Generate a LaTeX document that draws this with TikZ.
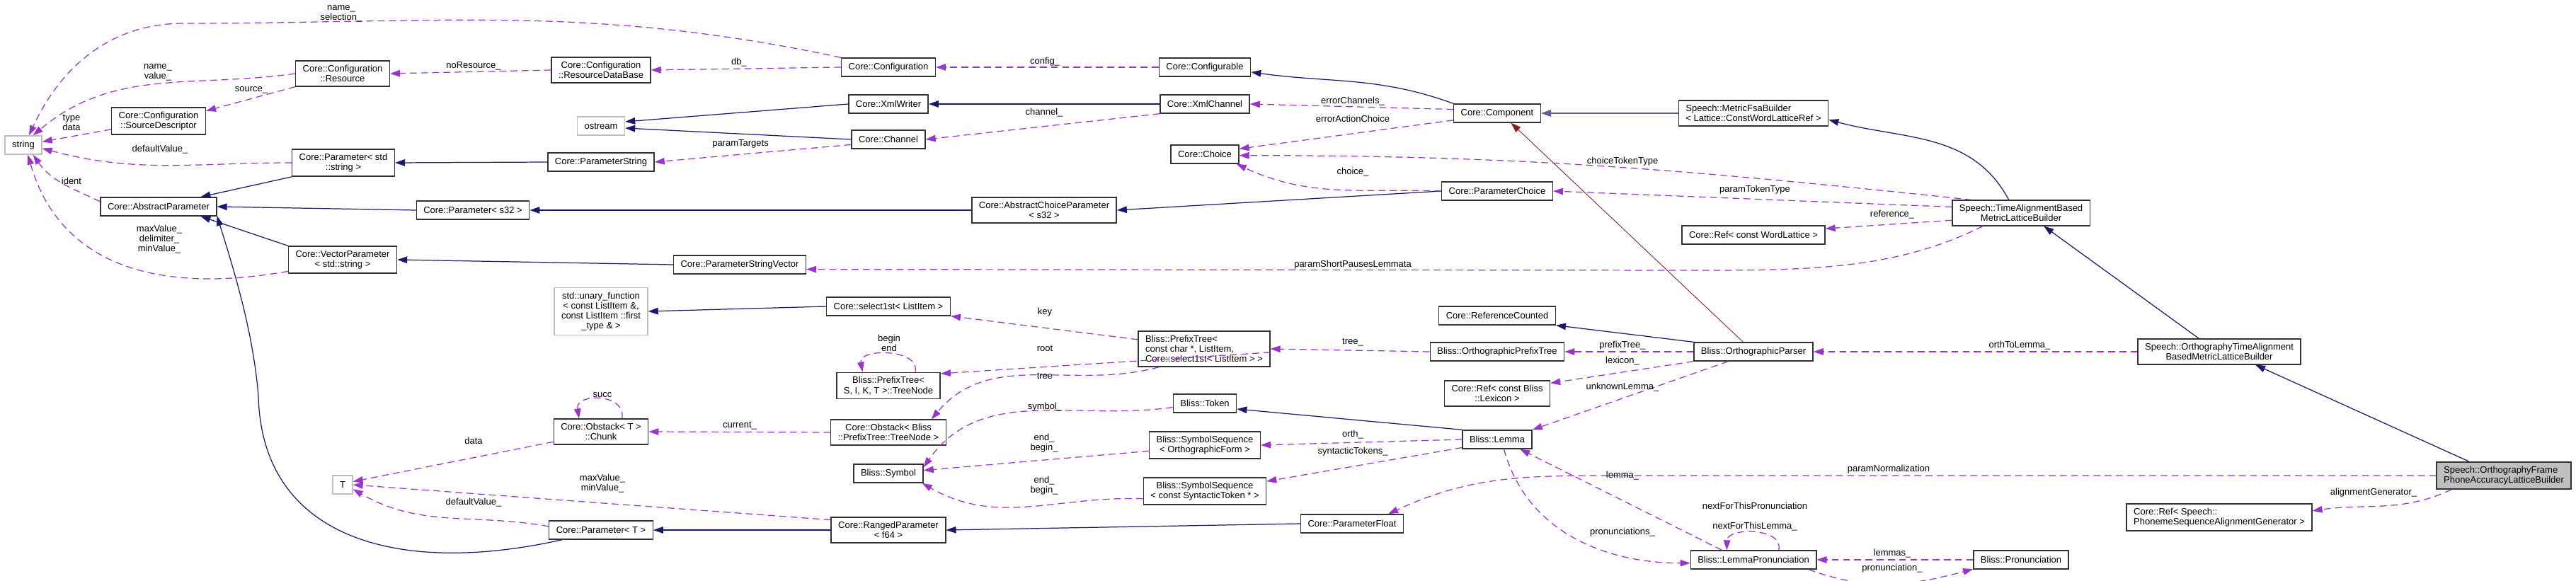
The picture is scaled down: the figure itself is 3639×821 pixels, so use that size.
\documentclass[tikz,border=0pt]{standalone}
\usepackage{fontspec}
\setmainfont{Liberation Sans}
\usetikzlibrary{arrows.meta}
\definecolor{inhblue}{RGB}{25,25,112}
\definecolor{usepurple}{RGB}{154,50,205}
\definecolor{protred}{RGB}{139,26,26}
\definecolor{extgray}{RGB}{191,191,191}

\begin{document}
\begin{tikzpicture}[x=0.02cm,y=-0.02cm,
  font=\fontsize{7.4}{8.1}\selectfont,
  cls/.style={draw=black!80,line width=0.8pt,fill=white,inner xsep=0.2cm,inner ysep=0.12cm,minimum height=0.52cm,align=center},
  ext/.style={cls,draw=extgray},
  cur/.style={cls,fill=extgray},
  lbl/.style={inner sep=0pt,align=center},
  inh/.style={->,draw=inhblue,line width=0.7pt},
  use/.style={->,draw=usepurple,line width=0.7pt,dash pattern=on 5.5pt off 3.5pt},
  prot/.style={->,draw=protred,line width=0.5pt},
  >={Triangle[length=0.28cm,width=0.19cm]}]
\useasboundingbox (0,0) rectangle (3639,821);
\node[ext] (str) at (33,205) {string};
\node[cls] (cres) at (484,104) {Core::Configuration\\::Resource};
\node[cls] (crdb) at (849,99) {Core::Configuration\\::ResourceDataBase};
\node[cls] (csrc) at (224,171) {Core::Configuration\\::SourceDescriptor};
\node[ext] (ostr) at (849,178) {ostream};
\node[cls] (cpstd) at (485,230) {Core::Parameter< std\\::string >};
\node[cls] (cpstr) at (849,229) {Core::ParameterString};
\node[cls] (cabs) at (224,292) {Core::AbstractParameter};
\node[cls] (cps32) at (668,297) {Core::Parameter< s32 >};
\node[cls] (cvec) at (484,367) {Core::VectorParameter\\< std::string >};
\node[ext] (unf) at (849,440) {std::unary\_function\\< const ListItem \&,\\const ListItem ::first\\\_type \& >};
\node[cls] (chunk) at (849,610) {Core::Obstack< T >\\::Chunk};
\node[ext] (tt) at (484,685) {T};
\node[cls] (cpt) at (849,749) {Core::Parameter< T >};
\node[cls] (cconf) at (1255,95) {Core::Configuration};
\node[cls] (ccfg) at (1702,95) {Core::Configurable};
\node[cls] (cxw) at (1255,147) {Core::XmlWriter};
\node[cls] (cxc) at (1702,147) {Core::XmlChannel};
\node[cls] (cchan) at (1255,197) {Core::Channel};
\node[cls] (cchoice) at (1702,218) {Core::Choice};
\node[cls] (cacp) at (1475,297) {Core::AbstractChoiceParameter\\< s32 >};
\node[cls] (cpsv) at (1045,374) {Core::ParameterStringVector};
\node[cls] (csel) at (1255,433) {Core::select1st< ListItem >};
\node[cls,align=left] (bpt) at (1701,493) {Bliss::PrefixTree<\\ const char *, ListItem,\\ Core::select1st< ListItem > >};
\node[cls] (btn) at (1255,545) {Bliss::PrefixTree<\\S, I, K, T >::TreeNode};
\node[cls] (cobs) at (1255,611) {Core::Obstack< Bliss\\::PrefixTree::TreeNode >};
\node[cls] (btok) at (1702,570) {Bliss::Token};
\node[cls] (bsso) at (1702,629) {Bliss::SymbolSequence\\< OrthographicForm >};
\node[cls] (bsym) at (1255,669) {Bliss::Symbol};
\node[cls] (bsss) at (1702,694) {Bliss::SymbolSequence\\< const SyntacticToken * >};
\node[cls] (crp) at (1255,749) {Core::RangedParameter\\< f64 >};
\node[cls] (ccomp) at (2115,160) {Core::Component};
\node[cls,align=left] (smfb) at (2477,160) {Speech::MetricFsaBuilder\\< Lattice::ConstWordLatticeRef >};
\node[cls] (cpc) at (2115,270) {Core::ParameterChoice};
\node[cls] (crwl) at (2477,332) {Core::Ref< const WordLattice >};
\node[cls] (crc) at (2115,446) {Core::ReferenceCounted};
\node[cls] (bopt) at (2115,497) {Bliss::OrthographicPrefixTree};
\node[cls] (bop) at (2477,497) {Bliss::OrthographicParser};
\node[cls] (crlex) at (2115,556) {Core::Ref< const Bliss\\::Lexicon >};
\node[cls] (blem) at (2115,621) {Bliss::Lemma};
\node[cls] (cpf) at (1910,740) {Core::ParameterFloat};
\node[cls] (blp) at (2477,791) {Bliss::LemmaPronunciation};
\node[cls] (stab) at (2855,301) {Speech::TimeAlignmentBased\\MetricLatticeBuilder};
\node[cls] (sota) at (3135,497) {Speech::OrthographyTimeAlignment\\BasedMetricLatticeBuilder};
\node[cur,align=left] (sofp) at (3537,672) {Speech::OrthographyFrame\\PhoneAccuracyLatticeBuilder};
\node[cls,align=left] (crpsa) at (3135,731) {Core::Ref< Speech::\\PhonemeSequenceAlignmentGenerator >};
\node[cls] (bpron) at (2855,791) {Bliss::Pronunciation};
\draw[inh] (cpstd.south west) -- (cabs.13);
\draw[inh] (cps32.west) -- (cabs.east);
\draw[inh] (cvec.north west) -- (cabs.-13);
\draw[inh] (cpt.194) .. controls (560,815) and (370,760) .. (365,560) .. controls (358,470) and (330,380) .. (cabs.-9);
\draw[inh] (cpstr.west) -- (cpstd.east);
\draw[inh] (cxw.west) -- (ostr.10);
\draw[inh] (cchan.west) -- (ostr.-5);
\draw[inh] (cxc.west) -- (cxw.east);
\draw[inh] (cacp.west) -- (cps32.east);
\draw[inh] (cpsv.west) -- (cvec.east);
\draw[inh] (cpc.west) -- (cacp.east);
\draw[inh] (ccomp.north west) to[out=160,in=-8] (ccfg.-6);
\draw[inh,draw=inhblue!70] (smfb.west) -- (ccomp.east);
\draw[inh] (stab.133) to[out=118,in=-15] (smfb.-5);
\draw[inh] (sota.147) -- (stab.-30);
\draw[inh] (sofp.158) -- (sota.-20);
\draw[inh] (bop.north west) -- (crc.south east);
\draw[inh] (csel.west) -- (unf.east);
\draw[inh] (blem.north west) -- (btok.-10);
\draw[inh] (crp.west) -- (cpt.east);
\draw[inh] (cpf.west) -- (crp.east);
\draw[prot] (bop.137) -- (ccomp.-35);
\draw[use] (cconf.north west) to[out=168,in=0] (260,33) to[out=180,in=65] (str.60);
\draw[use] (cres.west) to[out=188,in=40] (str.45);
\draw[use] (cres.south west) -- (csrc.12);
\draw[use] (csrc.190) -- (str.10);
\draw[use] (cpstd.west) to[out=180,in=-15] (str.-10);
\draw[use] (cabs.175) to[out=155,in=-55] (str.-45);
\draw[use] (cvec.192) .. controls (200,420) and (80,360) .. (str.-65);
\draw[use] (crdb.west) -- (cres.east);
\draw[use] (cconf.west) -- (crdb.east);
\draw[use] (ccfg.west) -- (cconf.east);
\draw[use] (cxc.south west) -- (cchan.east);
\draw[use] (cchan.188) -- (cpstr.east);
\draw[use] (ccomp.175) -- (cxc.east);
\draw[use] (ccomp.189) -- (cchoice.9);
\draw[use] (stab.165) to[out=174,in=0] (cchoice.-2);
\draw[use] (cpc.west) to[out=178,in=-25] (cchoice.-17);
\draw[use] (stab.175) -- (cpc.east);
\draw[use] (stab.186) -- (crwl.5);
\draw[use] (stab.199) .. controls (2680,380) and (2560,382) .. (2400,382) -- (cpsv.-4);
\draw[use] (sota.west) -- (bop.east);
\draw[use] (bop.west) -- (bopt.east);
\draw[use] (bop.south west) -- (crlex.11);
\draw[use] (bop.201) -- (blem.north east);
\draw[use] (bopt.west) -- (bpt.east);
\draw[use] (bpt.172) -- (csel.south east);
\draw[use] (bpt.-3) -- (btn.13);
\draw[use] (bpt.202) to[out=195,in=50] (cobs.17);
\draw[use] (btn.27) .. controls (1300,492) and (1212,492) .. (btn.152);
\draw[use] (cobs.west) -- (chunk.east);
\draw[use] (chunk.192) -- (tt.17);
\draw[use] (chunk.32) .. controls (885,555) and (812,555) .. (chunk.149);
\draw[use] (crp.170) -- (tt.east);
\draw[use] (cpt.176) to[out=170,in=-30] (tt.-23);
\draw[use] (btok.187) to[out=188,in=55] (bsym.10);
\draw[use] (bsso.186) -- (bsym.5);
\draw[use] (bsss.187) to[out=178,in=-30] (bsym.-16);
\draw[use] (blem.west) -- (bsso.east);
\draw[use] (blem.193) -- (bsss.9);
\draw[use] (sofp.west) -- (2280,672) to[out=180,in=25] (cpf.15);
\draw[use] (blp.163) -- (blem.-23);
\draw[use] (blem.-55) to[out=-75,in=180] (blp.183);
\draw[use] (blp.21) .. controls (2520,745) and (2440,745) .. (blp.160);
\draw[use] (bpron.west) -- (blp.east);
\draw[use] (blp.-10) to[out=-20,in=195] (bpron.191);
\draw[use] (sofp.195) to[out=205,in=8] (crpsa.4);
\node[lbl] (tnamesel) at (482,19) {name\_\\selection\_};
\node[lbl] (tnameval) at (223,102) {name\_\\value\_};
\node[lbl] (tsource) at (355,127) {source\_};
\node[lbl] (ttype) at (101,173) {type\\data};
\node[lbl] (tdefstr) at (226,211) {defaultValue\_};
\node[lbl] (tident) at (101,256) {ident};
\node[lbl] (tmaxdel) at (225,338) {maxValue\_\\delimiter\_\\minValue\_};
\node[lbl] (tnores) at (669,93) {noResource\_};
\node[lbl] (tdb) at (1044,88) {db\_};
\node[lbl] (tconfig) at (1476,87) {config\_};
\node[lbl] (tchannel) at (1475,159) {channel\_};
\node[lbl] (tparamtg) at (1046,203) {paramTargets};
\node[lbl] (terrch) at (1911,143) {errorChannels\_};
\node[lbl] (terrac) at (1911,168) {errorActionChoice};
\node[lbl] (tchtok) at (2292,228) {choiceTokenType};
\node[lbl] (tchoice) at (1911,243) {choice\_};
\node[lbl] (tpartok) at (2479,268) {paramTokenType};
\node[lbl] (tref) at (2673,303) {reference\_};
\node[lbl] (tpspl) at (1911,374) {paramShortPausesLemmata};
\node[lbl] (tkey) at (1476,441) {key};
\node[lbl] (tbegend) at (1256,485) {begin\\end};
\node[lbl] (troot) at (1476,492) {root};
\node[lbl] (ttree) at (1476,531) {tree};
\node[lbl] (tsymbol) at (1476,575) {symbol\_};
\node[lbl] (tcurrent) at (1045,602) {current\_};
\node[lbl] (tendo) at (1475,626) {end\_\\begin\_};
\node[lbl] (tends) at (1475,686) {end\_\\begin\_};
\node[lbl] (tsucc) at (851,558) {succ};
\node[lbl] (tdata) at (669,623) {data};
\node[lbl] (tmaxmin) at (851,683) {maxValue\_\\minValue\_};
\node[lbl] (tdeft) at (669,710) {defaultValue\_};
\node[lbl] (ttree2) at (1911,484) {tree\_};
\node[lbl] (tprefix) at (2292,488) {prefixTree\_};
\node[lbl] (tlexicon) at (2292,510) {lexicon\_};
\node[lbl] (tunkn) at (2292,547) {unknownLemma\_};
\node[lbl] (torth) at (1911,614) {orth\_};
\node[lbl] (tsynt) at (1911,638) {syntacticTokens\_};
\node[lbl] (tlemma) at (2292,672) {lemma\_};
\node[lbl] (tnorm) at (2668,663) {paramNormalization};
\node[lbl] (tnextp) at (2479,715) {nextForThisPronunciation};
\node[lbl] (tnextl) at (2479,744) {nextForThisLemma\_};
\node[lbl] (tprons) at (2292,752) {pronunciations\_};
\node[lbl] (tlemmas) at (2673,782) {lemmas\_};
\node[lbl] (tpron) at (2673,803) {pronunciation\_};
\node[lbl] (torthlem) at (2853,488) {orthToLemma\_};
\node[lbl] (talign) at (3353,696) {alignmentGenerator\_};
\end{tikzpicture}
\end{document}
